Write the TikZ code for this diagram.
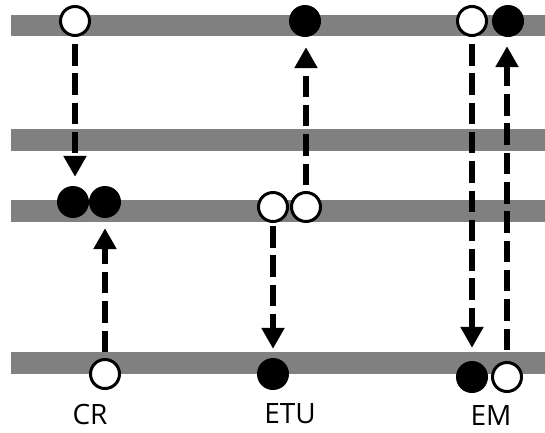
\documentclass[tikz,border=0pt]{standalone}
\usepackage{fontspec}
\setmainfont{Open Sans}
\usetikzlibrary{arrows.meta}
\begin{document}
\begin{tikzpicture}[x=1pt,y=-1pt,
  bar/.style={fill=black!50,draw=none},
  hole/.style={circle,draw=black,line width=3pt,fill=white,inner sep=0pt,minimum size=29pt},
  elec/.style={circle,fill=black,draw=none,inner sep=0pt,minimum size=32pt},
  trans/.style={line width=6.5pt,dash pattern=on 21.5pt off 7.8pt,
    -{Triangle[length=21pt,width=22pt]}},
  lab/.style={font=\fontsize{28}{32}\selectfont,inner sep=0pt}]
\useasboundingbox (0,0) rectangle (545,432);
% bars
\fill[bar] (11,15) rectangle (545,36);
\fill[bar] (11,129) rectangle (545,151);
\fill[bar] (11,200) rectangle (545,222);
\fill[bar] (11,352) rectangle (545,374);
% CR
\node[hole] (crT) at (75,21) {};
\node[elec] (crM1) at (73,202) {};
\node[elec] (crM2) at (105,202) {};
\node[hole] (crB) at (105,374) {};
% ETU
\node[elec] (etuT) at (305,21) {};
\node[hole] (etuM1) at (273,207) {};
\node[hole] (etuM2) at (306,207) {};
\node[elec] (etuB) at (273,374) {};
% EM
\node[hole] (emT1) at (472,21) {};
\node[elec] (emT2) at (508,21) {};
\node[elec] (emB1) at (472,377) {};
\node[hole] (emB2) at (507,377) {};
% labels
\node[lab] (lcr) at (90,414) {CR};
\node[lab] (letu) at (290,414) {ETU};
\node[lab] (lem) at (491,415) {EM};
% transitions
\draw[trans,shorten <=7pt,shorten >=9pt] (crT.south) -- (crT.south |- crM1.north);
\draw[trans,shorten <=6pt,shorten >=10pt] (crB.north) -- (crB.north |- crM2.south);
\draw[trans,shorten <=6pt,shorten >=10pt] (etuM2.north) -- (etuM2.north |- etuT.south);
\draw[trans,shorten <=3pt,shorten >=9pt] (etuM1.south) -- (etuM1.south |- etuB.north);
\draw[trans,shorten <=7pt,shorten >=13pt] (emT1.south) -- (emT1.south |- emB1.north);
\draw[trans,shorten <=11pt,shorten >=9pt] (emB2.north) -- (emB2.north |- emT2.south);
\end{tikzpicture}
\end{document}
